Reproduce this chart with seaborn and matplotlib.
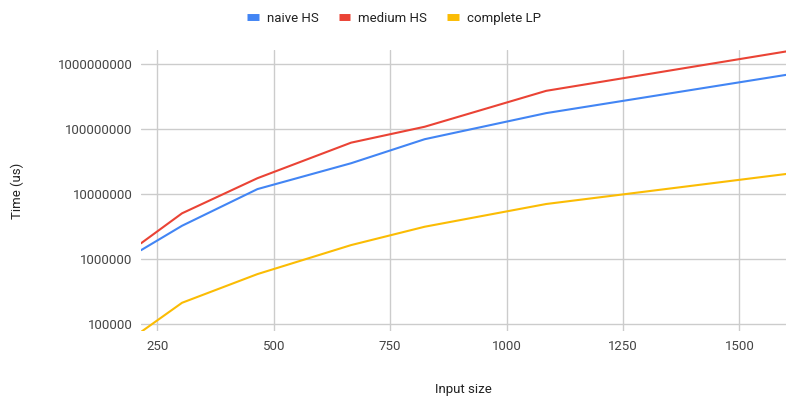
import matplotlib
matplotlib.use("Agg")
import matplotlib.pyplot as plt
import matplotlib.ticker as mticker
from matplotlib.lines import Line2D
import seaborn as sns
import pandas as pd

input_size = [215, 303, 465, 666, 824, 1085, 1600]
naive_hs = [1.37e6, 3.25e6, 1.19e7, 2.97e7, 6.95e7, 1.75e8, 6.77e8]
medium_hs = [1.75e6, 5.05e6, 1.75e7, 6.15e7, 1.08e8, 3.85e8, 1.55e9]
complete_lp = [7.6e4, 2.13e5, 5.88e5, 1.64e6, 3.14e6, 7.02e6, 2.03e7]
series_names = ["naive HS", "medium HS", "complete LP"]
colors = ["#4285F4", "#EA4335", "#FBBC04"]
y_ticks = [1e5, 1e6, 1e7, 1e8, 1e9]
x_ticks = [250, 500, 750, 1000, 1250, 1500]

rows = []
for name, vals in zip(series_names, [naive_hs, medium_hs, complete_lp]):
    for x, v in zip(input_size, vals):
        rows.append({"Input size": x, "Time (us)": v, "series": name})
df = pd.DataFrame(rows)

sns.set_theme(style="white")
plt.rcParams["font.family"] = ["Roboto", "DejaVu Sans"]

fig = plt.figure(figsize=(7.88, 3.99), dpi=100)
ax = fig.add_axes([0.179, 0.170, 0.8185, 0.705])
sns.lineplot(data=df, x="Input size", y="Time (us)", hue="series",
             palette=colors, hue_order=series_names, linewidth=1.5,
             ax=ax, legend=False, estimator=None, sort=False)
ax.set_yscale("log")
ax.set_xlim(215, 1600)
ax.set_ylim(7.8e4, 1.64e9)
ax.set_yticks(y_ticks)
ax.yaxis.set_major_formatter(mticker.FuncFormatter(lambda v, p: f"{int(round(v))}"))
ax.yaxis.set_minor_locator(mticker.NullLocator())
ax.set_xticks(x_ticks)
ax.grid(True, color="#cccccc", linewidth=1)
for s in ax.spines.values():
    s.set_visible(False)
ax.tick_params(axis="both", length=0, labelsize=9.5, colors="#444444", pad=6)
ax.set_xlabel("Input size", fontsize=9.5, color="#222222", labelpad=22)
ax.set_ylabel("Time (us)", fontsize=9.5, color="#222222", labelpad=24)

handles = [Line2D([0], [0], color=c, linewidth=5, solid_capstyle="butt") for c in colors]
fig.legend(handles, series_names, loc="upper center", bbox_to_anchor=(0.5, 1.0),
           ncol=3, frameon=False, fontsize=9.5, handlelength=0.9, handletextpad=0.6,
           columnspacing=1.5, labelcolor="#222222")

fig.savefig("out.png", dpi=100)
